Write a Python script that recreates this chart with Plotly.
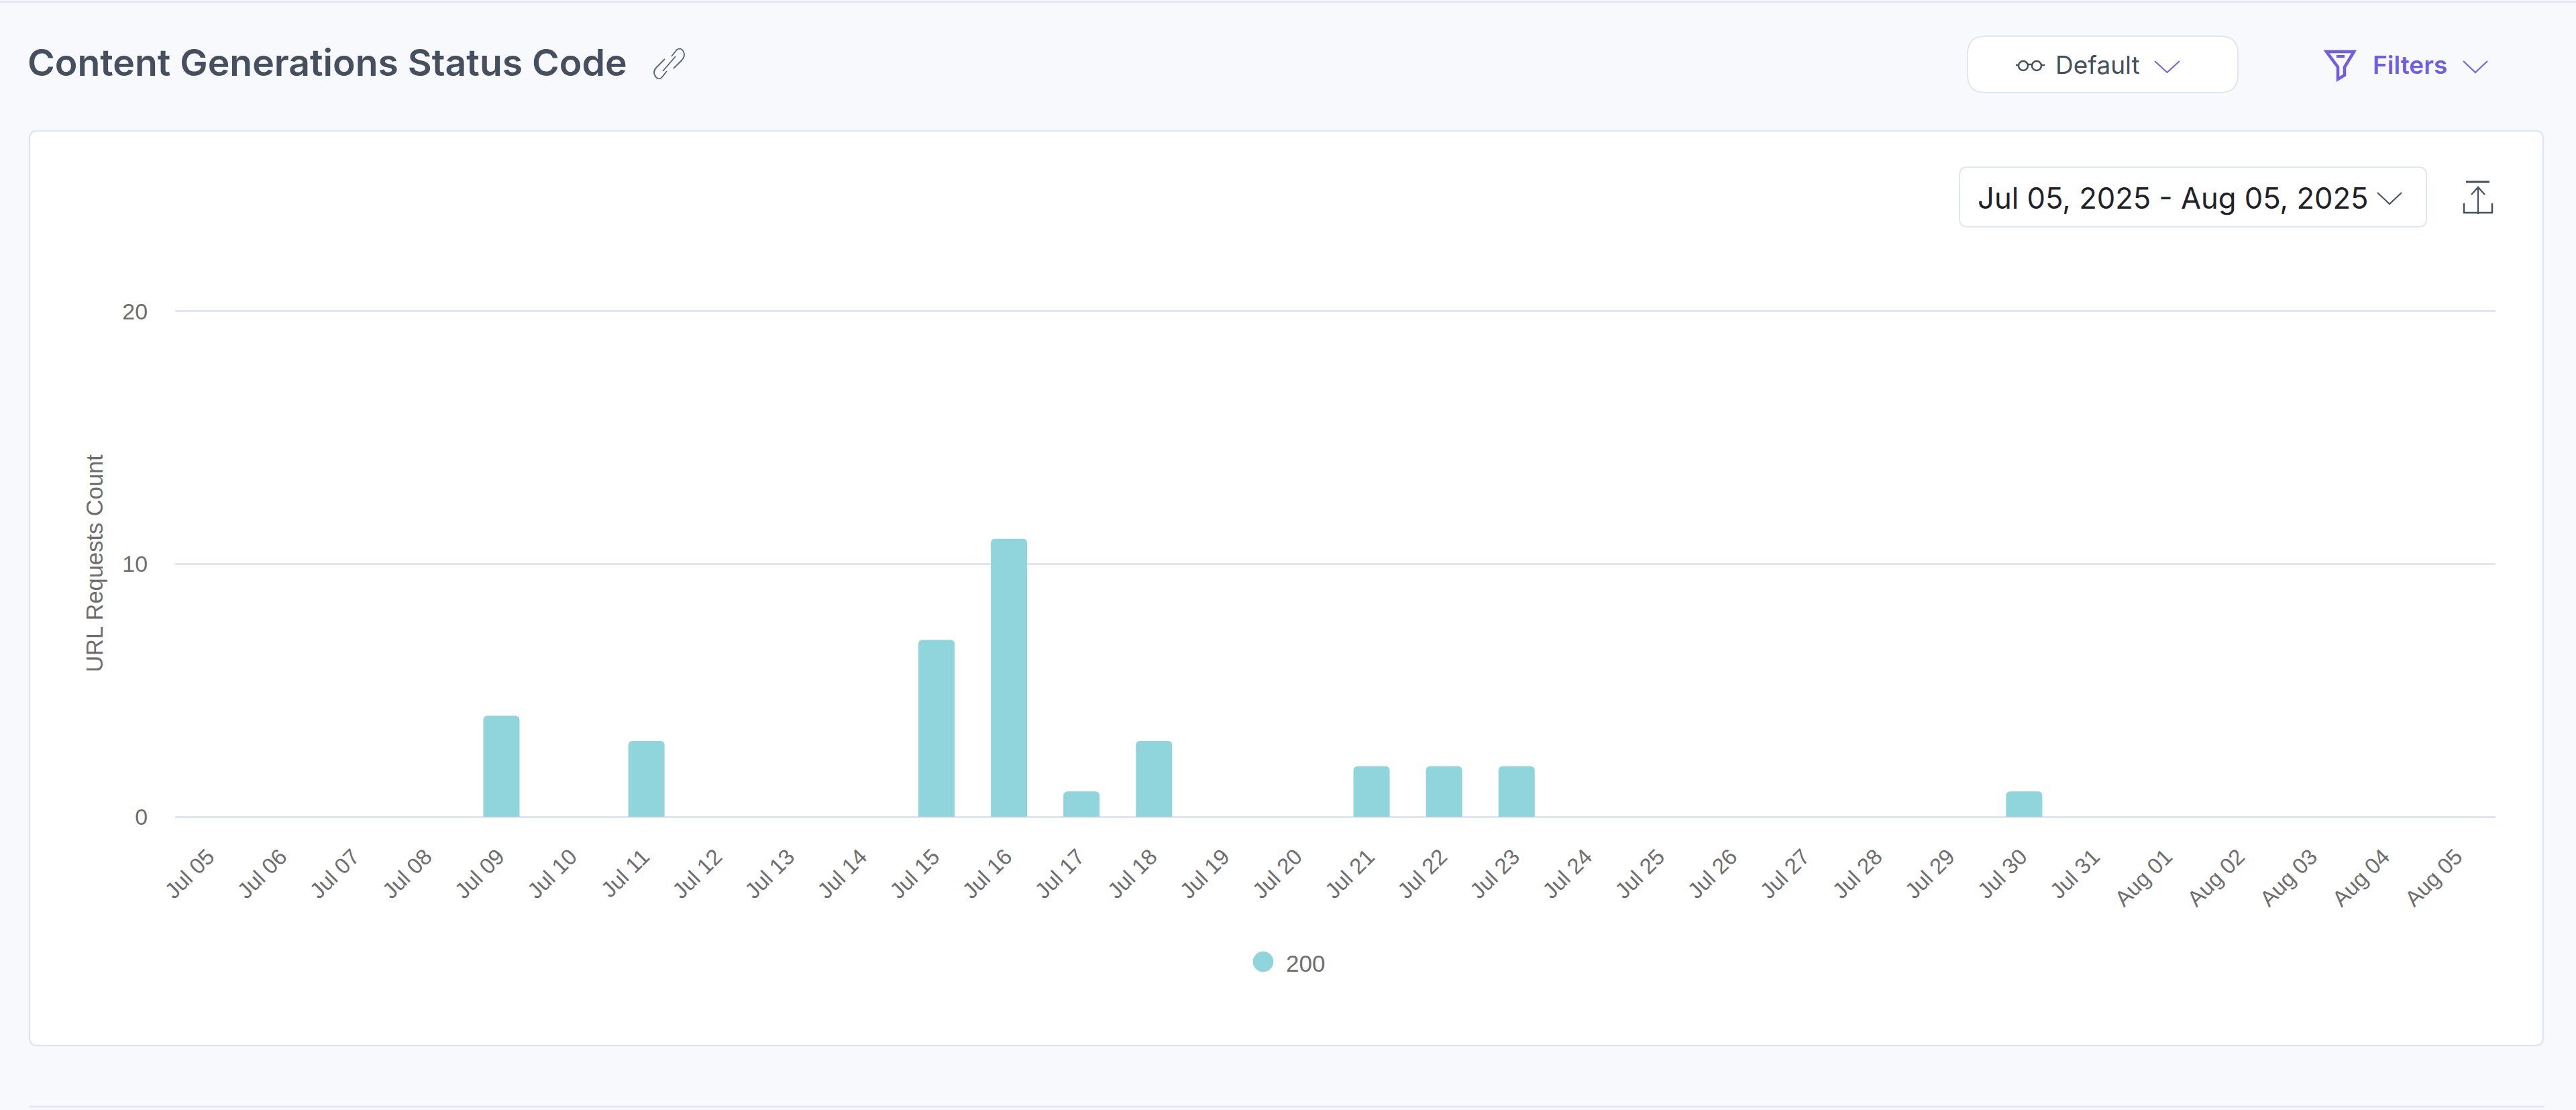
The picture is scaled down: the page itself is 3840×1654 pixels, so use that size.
import plotly.graph_objects as go

W, H = 3840, 1654
PLOT_L, PLOT_R, PLOT_T, PLOT_B = 261, 3720, 463, 1217

dates = ["Jul 05","Jul 06","Jul 07","Jul 08","Jul 09","Jul 10","Jul 11","Jul 12","Jul 13","Jul 14",
         "Jul 15","Jul 16","Jul 17","Jul 18","Jul 19","Jul 20","Jul 21","Jul 22","Jul 23","Jul 24",
         "Jul 25","Jul 26","Jul 27","Jul 28","Jul 29","Jul 30","Jul 31","Aug 01","Aug 02","Aug 03",
         "Aug 04","Aug 05"]
counts = [0,0,0,0,4,0,3,0,0,0,7,11,1,3,0,0,2,2,2,0,0,0,0,0,0,1,0,0,0,0,0,0]
y_ticks = [0, 10, 20]
series_name = "200"
y_title = "URL Requests Count"
title_text = "Content Generations Status Code"
view_text = "Default"
filter_text = "Filters"
range_text = "Jul 05, 2025 - Aug 05, 2025"

BG = "#f8f9fd"
LINE = "#e2e6f2"
BAR = "#8fd5db"
GREY = "#6e6e6e"
SLATE = "#454f5e"
PURPLE = "#6e5ee6"

X = lambda v: v / W
Y = lambda v: 1 - v / H

def path(cmds):
    out = []
    for c in cmds:
        op, pts = c[0], c[1:]
        out.append(op + " ".join(f"{X(pts[i]):.6f},{Y(pts[i+1]):.6f}" for i in range(0, len(pts), 2)))
    return " ".join(out)

def rrect(x0, y0, x1, y1, r):
    return path([("M", x0+r, y0), ("L", x1-r, y0), ("Q", x1, y0, x1, y0+r), ("L", x1, y1-r),
                 ("Q", x1, y1, x1-r, y1), ("L", x0+r, y1), ("Q", x0, y1, x0, y1-r), ("L", x0, y0+r),
                 ("Q", x0, y0, x0+r, y0), ("Z",)])

def pshape(d, color="rgba(0,0,0,0)", line=LINE, width=2.5):
    return dict(type="path", xref="paper", yref="paper", path=d, fillcolor=color,
                line=dict(color=line, width=width), layer="below")

def pl(cmds, line, width=2.5):
    return pshape(path(cmds), line=line, width=width)

def circ(cx, cy, r, fill="rgba(0,0,0,0)", line=SLATE, width=2.5):
    return dict(type="circle", xref="paper", yref="paper", x0=X(cx-r), x1=X(cx+r), y0=Y(cy+r), y1=Y(cy-r),
                fillcolor=fill, line=dict(color=line, width=width), layer="below")

def chevron(x0, x1, y0, y1, color, width=2):
    return pl([("M", x0, y0), ("L", (x0+x1)/2, y1), ("L", x1, y0)], color, width)

shapes = [
    pl([("M", 0, 3), ("L", W, 3)], LINE, 2.5),
    pl([("M", 43, 1649), ("L", 3793, 1649)], LINE, 2.5),
    pshape(rrect(44, 195, 3791, 1558, 12), "#ffffff"),
    pshape(rrect(2933, 54, 3336, 138, 26), "#ffffff", width=2),
    pshape(rrect(2921, 249, 3617, 338, 12), "#ffffff", width=2),
    # link icon
    pl([("M", 1001, 84), ("L", 1009, 74), ("Q", 1015, 70, 1019, 77), ("Q", 1022, 84, 1016, 90),
        ("L", 1004, 102), ("M", 994, 106), ("L", 986, 116), ("Q", 980, 120, 976, 112),
        ("Q", 973, 106, 979, 100), ("L", 991, 88)], "#5a6472", 1.8),
    pl([("M", 988, 106), ("L", 1007, 84)], "#5a6472", 1.8),
    # glasses
    circ(3016, 98, 7), circ(3036, 98, 7),
    pl([("M", 3023, 96), ("L", 3029, 96), ("M", 3005, 97), ("L", 3009, 97), ("M", 3043, 97), ("L", 3048, 97)], SLATE),
    chevron(3212, 3249, 91, 108, PURPLE),
    # funnel
    pl([("M", 3468, 77), ("L", 3509, 77), ("L", 3495, 100), ("L", 3495, 112), ("L", 3485, 118),
        ("L", 3485, 100), ("Z",)], PURPLE, 4.5),
    pl([("M", 3483, 84), ("L", 3495, 84)], PURPLE, 4),
    chevron(3672, 3708, 91, 108, PURPLE),
    chevron(3544, 3580, 287, 304, SLATE),
    # export icon
    pl([("M", 3676, 271), ("L", 3711, 271)], SLATE, 3),
    pl([("M", 3694, 319), ("L", 3694, 279), ("M", 3684, 290), ("L", 3694, 279), ("L", 3704, 290)], SLATE, 2.2),
    pl([("M", 3673, 303), ("L", 3673, 317), ("L", 3715, 317), ("L", 3715, 303)], SLATE, 2.5),
    # legend marker
    circ(1883, 1433, 15, fill=BAR, line=BAR, width=1),
]

def note(text, x, y, size, color, family="Inter, sans-serif", weight=400, anchor="left"):
    return dict(text=text, x=X(x), y=Y(y), xref="paper", yref="paper", xanchor=anchor, yanchor="middle",
                showarrow=False, font=dict(family=family, size=size, color=color, weight=weight))

annotations = [
    note(title_text, 39, 93, 55.3, SLATE, weight=600),
    note(view_text, 3062, 97, 37, SLATE, weight=400),
    note(filter_text, 3535, 97, 37, PURPLE, weight=600),
    note(range_text, 2946, 295, 43.6, "#1f2328"),
    note(series_name, 1915, 1435, 35, GREY, family="Liberation Sans"),
]

fig = go.Figure(go.Bar(x=dates, y=counts, name=series_name, width=0.5, marker=dict(color=BAR, line=dict(width=0))))
fig.update_layout(
    width=W, height=H, autosize=False, margin=dict(l=0, r=0, t=0, b=0, pad=0),
    paper_bgcolor=BG, plot_bgcolor="rgba(0,0,0,0)", showlegend=False, barcornerradius=6,
    shapes=shapes, annotations=annotations,
    font=dict(family="Liberation Sans", color=GREY),
    xaxis=dict(domain=[X(PLOT_L), X(PLOT_R)], type="category", categoryorder="array", categoryarray=dates,
               range=[-0.5, len(dates)-0.5], tickangle=-45, tickfont=dict(size=33, color=GREY),
               ticklabelshift=-5,
               showgrid=False, zeroline=False, showline=False, ticks="outside", ticklen=26,
               tickcolor="rgba(0,0,0,0)", automargin=False, tickmode="array", tickvals=dates, ticktext=dates),
    yaxis=dict(domain=[1-PLOT_B/H, 1-(PLOT_T-1)/H], range=[0, 20.05], tickmode="array", tickvals=y_ticks,
               tickfont=dict(size=34, color=GREY), gridcolor=LINE, gridwidth=2.5,
               zeroline=True, zerolinecolor=LINE, zerolinewidth=2.5, showline=False,
               ticks="outside", ticklen=33, tickcolor="rgba(0,0,0,0)", automargin=False,
               title=dict(text=y_title, font=dict(size=34.5, color=GREY), standoff=18)),
)
fig.write_html("out.html", config={"displayModeBar": False},
               post_script="document.body.style.margin='0';document.body.style.background='%s';" % BG)
